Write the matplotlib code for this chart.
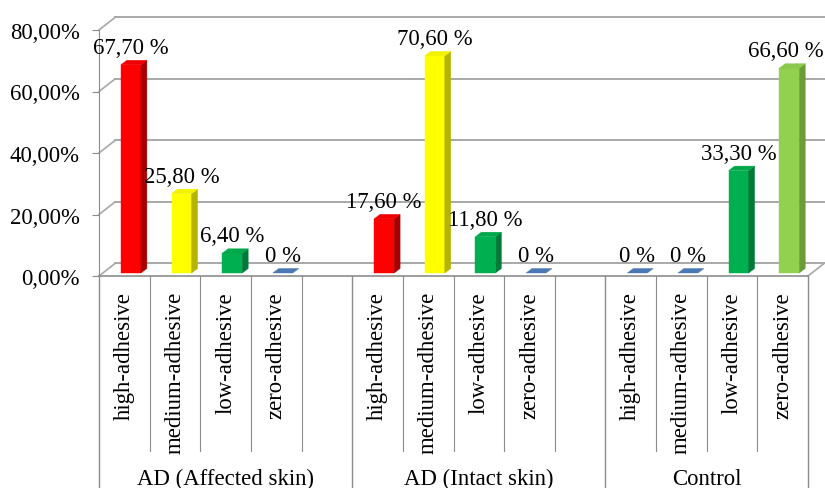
import matplotlib
matplotlib.use("Agg")
import matplotlib.pyplot as plt
from matplotlib.patches import Polygon
from matplotlib.transforms import blended_transform_factory

plt.rcParams["font.family"] = ["Liberation Serif", "DejaVu Serif"]

# ---- data ----
groups = ["AD (Affected skin)", "AD (Intact skin)", "Control"]
categories = ["high-adhesive", "medium-adhesive", "low-adhesive", "zero-adhesive"]
affected_skin = [67.7, 25.8, 6.4, 0.0]
intact_skin = [17.6, 70.6, 11.8, 0.0]
control = [0.0, 0.0, 33.3, 66.6]
group_values = [affected_skin, intact_skin, control]
ytick_values = [0, 20, 40, 60, 80]
ytick_labels = ["0,00%", "20,00%", "40,00%", "60,00%", "80,00%"]

# ---- style ----
front_colors = ["#ff0000", "#ffff00", "#00b050", "#92d050"]
side_colors = ["#a80000", "#b3b300", "#007a38", "#6a9c38"]
top_colors = ["#f00000", "#f2f200", "#00a84b", "#8cc84a"]
zero_color = "#4a78b2"
grid_color = "#a8a8a8"
axis_color = "#8c8c8c"
FS = 16.4

W, H = 825, 489
fig = plt.figure(figsize=(W / 100, H / 100), dpi=100)
ax = fig.add_axes([99 / W, 212 / H, 709 / W, 246 / H])
ax.set_xlim(0, 14)
ax.set_ylim(0, 80)
ax.patch.set_visible(False)
for name, sp in ax.spines.items():
    sp.set_visible(name == "left")
ax.spines["left"].set_color(axis_color)
ax.set_xticks([])
ax.set_yticks(ytick_values)
ax.set_yticklabels(ytick_labels, fontsize=FS)
ax.tick_params(axis="y", length=5, color=axis_color, pad=9)

# depth of the 3D box (back wall offset) and of the bars
wall_dx, wall_dy = 0.316, 4.07
bar_dx, bar_dy = 0.118, 1.46
bar_w = 0.395
bar_shift = 0.13
bar_base = 0.98

# back wall gridlines and side-wall diagonals
for v in ytick_values:
    ax.plot([wall_dx, 14 + wall_dx], [v + wall_dy, v + wall_dy],
            color=grid_color, lw=1.4, zorder=1, clip_on=False)
    ax.plot([0, wall_dx], [v, v + wall_dy], color=grid_color, lw=1.2,
            zorder=1, clip_on=False)
# floor right edge and front edge
ax.plot([14, 14 + wall_dx], [0, wall_dy], color=grid_color, lw=1.2,
        zorder=1, clip_on=False)
ax.plot([0, 14], [0, 0], color=axis_color, lw=1.2, zorder=2, clip_on=False)


def label_text(v):
    if v == 0:
        return "0 %"
    return f"{v:.2f}".replace(".", ",") + " %"


# each group takes five slots (four categories plus a spacer), the last one four
group_slots = []
value_labels = []
for g, vals in enumerate(group_values):
    start = 5 * g
    end = start + (len(vals) + 1 if g < len(group_values) - 1 else len(vals))
    group_slots.append((start, end))
    for i, v in enumerate(vals):
        cx = start + i + 0.5 + bar_shift
        xl, xr = cx - bar_w / 2, cx + bar_w / 2
        b = bar_base
        t = b + v
        if v > 0:
            ax.bar(cx, v, width=bar_w, bottom=b, color=front_colors[i],
                   edgecolor=front_colors[i], lw=0.3, zorder=3)
            ax.add_patch(Polygon([(xr, b), (xr + bar_dx, b + bar_dy),
                                  (xr + bar_dx, t + bar_dy), (xr, t)],
                                 closed=True, facecolor=side_colors[i],
                                 edgecolor=side_colors[i], lw=0.3, zorder=3,
                                 clip_on=False))
            top_col = top_colors[i]
        else:
            top_col = zero_color
        ax.add_patch(Polygon([(xl, t), (xr, t), (xr + bar_dx, t + bar_dy),
                              (xl + bar_dx, t + bar_dy)], closed=True,
                             facecolor=top_col, edgecolor=top_col, lw=0.3,
                             zorder=4, clip_on=False))
        value_labels.append(
            ax.annotate(label_text(v), xy=(cx, t), xytext=(0, 8.6),
                        textcoords="offset points", ha="center",
                        va="baseline", fontsize=FS, zorder=5,
                        annotation_clip=False))

# multi-level category axis below the plot
trans = blended_transform_factory(ax.transData, fig.transFigure)
y_axis = 212 / H
y_inner = (H - 452) / H
boundaries = {s for s, _ in group_slots} | {group_slots[-1][1]}
for k in range(group_slots[-1][1] + 1):
    y_end = 0.0 if k in boundaries else y_inner
    ax.plot([k, k], [y_axis, y_end], transform=trans, color=axis_color,
            lw=1.0 if k in boundaries else 0.8, clip_on=False, zorder=2)

for start, end in group_slots:
    for i, cat in enumerate(categories):
        ax.text(start + i + 0.5, (H - 292) / H, cat, transform=trans,
                rotation=90, ha="center", va="top", fontsize=FS)

for (start, end), name in zip(group_slots, groups):
    ax.text((start + end) / 2, (H - 485) / H, name, transform=trans,
            ha="center", va="baseline", fontsize=FS)

# keep value labels inside the canvas at the right edge
fig.canvas.draw()
renderer = fig.canvas.get_renderer()
for lab in value_labels:
    bb = lab.get_window_extent(renderer)
    overflow = bb.x1 - (W - 1)
    if overflow > 0:
        dx_pt, dy_pt = lab.xyann
        lab.xyann = (dx_pt - overflow * 72 / 100, dy_pt)

fig.savefig("out.png", dpi=100)
